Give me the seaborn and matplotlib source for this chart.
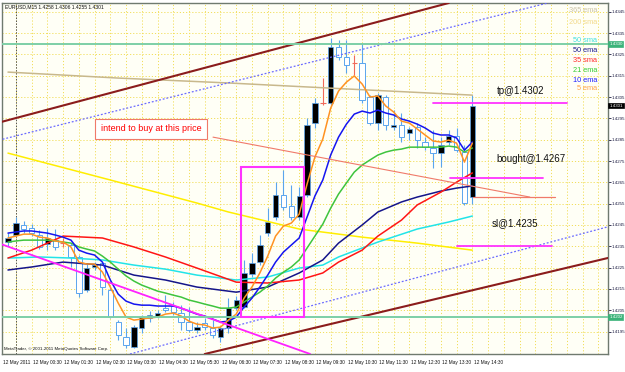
import matplotlib
matplotlib.use("Agg")
import matplotlib.pyplot as plt
from matplotlib.patches import Rectangle
import numpy as np
import pandas as pd
import seaborn as sns

sns.set_style("white")
plt.rcParams['font.family'] = ['Liberation Sans', 'DejaVu Sans']

# ---------------- data ----------------
header_text = "EURUSD,M15 1.4258 1.4306 1.4255 1.4301"
copyright_text = "MetaTrader, \u00a9 2001-2011 MetaQuotes Software Corp."

bar_open = [1.42370, 1.42403, 1.42450, 1.42436, 1.42403, 1.42361, 1.42379, 1.42365, 1.42356, 1.42300,
            1.42145, 1.42253, 1.42271, 1.42145, 1.41995, 1.41924, 1.41877, 1.41967, 1.42014, 1.42023,
            1.42060, 1.42070, 1.42037, 1.41995, 1.41957, 1.41990, 1.41967, 1.41924, 1.41967, 1.42060,
            1.42065, 1.42220, 1.42276, 1.42412, 1.42487, 1.42590, 1.42539, 1.42487, 1.42590, 1.42928,
            1.43022, 1.43022, 1.43285, 1.43238, 1.43209, 1.43209, 1.43050, 1.42928, 1.43050, 1.42909,
            1.42919, 1.42881, 1.42909, 1.42839, 1.42811, 1.42787, 1.42839, 1.42867, 1.42792, 1.42580]
bar_high = [1.42412, 1.42487, 1.42468, 1.42454, 1.42426, 1.42436, 1.42431, 1.42389, 1.42365, 1.42309,
            1.42271, 1.42276, 1.42276, 1.42159, 1.42004, 1.41967, 1.41981, 1.42028, 1.42046, 1.42051,
            1.42121, 1.42089, 1.42074, 1.42065, 1.41995, 1.42014, 1.42004, 1.41976, 1.42107, 1.42117,
            1.42286, 1.42318, 1.42403, 1.42529, 1.42651, 1.42708, 1.42637, 1.42628, 1.42952, 1.43045,
            1.43139, 1.43327, 1.43317, 1.43317, 1.43247, 1.43303, 1.43059, 1.43069, 1.43059, 1.42989,
            1.42975, 1.42909, 1.42928, 1.42862, 1.42895, 1.42862, 1.42895, 1.42905, 1.42825, 1.43060]
bar_low = [1.42351, 1.42398, 1.42412, 1.42398, 1.42337, 1.42332, 1.42332, 1.42346, 1.42253, 1.42112,
           1.42135, 1.42239, 1.42121, 1.42014, 1.41910, 1.41872, 1.41872, 1.41943, 1.41995, 1.42014,
           1.42042, 1.42028, 1.41957, 1.41948, 1.41943, 1.41957, 1.41920, 1.41901, 1.41943, 1.42051,
           1.42060, 1.42206, 1.42262, 1.42398, 1.42473, 1.42520, 1.42473, 1.42473, 1.42581, 1.42905,
           1.43012, 1.43012, 1.43224, 1.43163, 1.43153, 1.43022, 1.42919, 1.42895, 1.42895, 1.42895,
           1.42839, 1.42848, 1.42811, 1.42801, 1.42717, 1.42722, 1.42825, 1.42792, 1.42543, 1.42550]
bar_close = [1.42389, 1.42459, 1.42431, 1.42412, 1.42346, 1.42389, 1.42346, 1.42365, 1.42300, 1.42131,
             1.42248, 1.42262, 1.42159, 1.42018, 1.41934, 1.41887, 1.41971, 1.42018, 1.42028, 1.42037,
             1.42051, 1.42042, 1.41995, 1.41957, 1.41971, 1.41971, 1.41934, 1.41967, 1.42060, 1.42098,
             1.42225, 1.42271, 1.42356, 1.42464, 1.42590, 1.42534, 1.42487, 1.42586, 1.42919, 1.43022,
             1.43022, 1.43285, 1.43238, 1.43200, 1.43209, 1.43036, 1.42928, 1.43059, 1.42919, 1.42919,
             1.42862, 1.42900, 1.42848, 1.42815, 1.42787, 1.42825, 1.42867, 1.42801, 1.42553, 1.43010]

ema5 = [1.42389, 1.42398, 1.42407, 1.42407, 1.42393, 1.42389, 1.42375, 1.42370, 1.42347, 1.42276,
        1.42267, 1.42267, 1.42229, 1.42159, 1.42084, 1.42018, 1.42004, 1.42009, 1.42014, 1.42018,
        1.42032, 1.42037, 1.42023, 1.41999, 1.41985, 1.41981, 1.41967, 1.41971, 1.42004, 1.42032,
        1.42107, 1.42159, 1.42225, 1.42304, 1.42398, 1.42445, 1.42459, 1.42501, 1.42642, 1.42769,
        1.42853, 1.42998, 1.43078, 1.43120, 1.43149, 1.43111, 1.43050, 1.43055, 1.43008, 1.42980,
        1.42937, 1.42928, 1.42900, 1.42872, 1.42844, 1.42839, 1.42848, 1.42834, 1.42745, 1.42834]
ema10 = [1.42412, 1.42417, 1.42422, 1.42422, 1.42417, 1.42412, 1.42403, 1.42393, 1.42379, 1.42332,
         1.42318, 1.42309, 1.42276, 1.42192, 1.42126, 1.42093, 1.42079, 1.42074, 1.42074, 1.42070,
         1.42070, 1.42070, 1.42060, 1.42046, 1.42032, 1.42023, 1.42009, 1.41995, 1.41999, 1.42018,
         1.42065, 1.42107, 1.42159, 1.42215, 1.42276, 1.42323, 1.42356, 1.42389, 1.42487, 1.42586,
         1.42661, 1.42778, 1.42862, 1.42923, 1.42970, 1.42984, 1.42975, 1.42989, 1.42975, 1.42966,
         1.42947, 1.42937, 1.42923, 1.42905, 1.42881, 1.42872, 1.42872, 1.42858, 1.42801, 1.42839]
ema21 = [1.42370, 1.42375, 1.42379, 1.42379, 1.42379, 1.42379, 1.42375, 1.42370, 1.42365, 1.42347,
         1.42337, 1.42328, 1.42304, 1.42276, 1.42243, 1.42211, 1.42187, 1.42168, 1.42154, 1.42140,
         1.42131, 1.42121, 1.42112, 1.42098, 1.42089, 1.42079, 1.42070, 1.42060, 1.42060, 1.42065,
         1.42089, 1.42112, 1.42135, 1.42164, 1.42201, 1.42229, 1.42253, 1.42286, 1.42342, 1.42398,
         1.42454, 1.42529, 1.42595, 1.42647, 1.42698, 1.42731, 1.42755, 1.42778, 1.42792, 1.42801,
         1.42806, 1.42815, 1.42815, 1.42815, 1.42815, 1.42815, 1.42820, 1.42815, 1.42792, 1.42811]

sma35_bars = [0, 3, 7, 12, 16, 20, 24, 29, 33, 37, 40, 42, 45, 47, 50, 52, 55, 57, 59]
sma35 = [1.42295, 1.42332, 1.42398, 1.42389, 1.42347, 1.42300, 1.42248, 1.42182, 1.42178, 1.42192,
         1.42225, 1.42276, 1.42332, 1.42398, 1.42473, 1.42544, 1.42604, 1.42651, 1.42694]
ema50_bars = [0, 3, 7, 12, 16, 20, 24, 29, 33, 37, 40, 42, 45, 47, 50, 52, 55, 57, 59]
ema50 = [1.42239, 1.42253, 1.42276, 1.42262, 1.42215, 1.42192, 1.42159, 1.42135, 1.42159, 1.42225,
         1.42286, 1.42365, 1.42450, 1.42511, 1.42558, 1.42581, 1.42609, 1.42623, 1.42633]
sma50_bars = [0, 4, 8, 12, 16, 20, 24, 29, 33, 37, 40, 42, 47, 52, 56, 59]
sma50 = [1.42295, 1.42300, 1.42295, 1.42286, 1.42262, 1.42243, 1.42215, 1.42192, 1.42206, 1.42248,
         1.42262, 1.42300, 1.42370, 1.42431, 1.42464, 1.42492]
sma200_bars = [0, 13, 24, 28, 37, 45, 52, 59]
sma200 = [1.42787, 1.42661, 1.42553, 1.42511, 1.42431, 1.42393, 1.42365, 1.42332]
ema365_bars = [0, 14, 28, 43, 59]
ema365 = [1.43167, 1.43139, 1.43116, 1.43088, 1.43059]

# drawn objects (trend lines, levels)
channel_up_bars, channel_up_prices = [-2.0, 56.0], [1.42922, 1.43491]
channel_dn_bars, channel_dn_prices = [25.0, 77.0], [1.41845, 1.42302]
dotted_up_bars, dotted_up_prices = [-2.0, 70.1], [1.42840, 1.43505]
dotted_dn_bars, dotted_dn_prices = [15.5, 77.0], [1.41845, 1.42449]
magenta_trend_bars, magenta_trend_prices = [-2.0, 38.4], [1.42375, 1.41845]
intend_line_bars, intend_line_prices = [26.05, 66.3], [1.42862, 1.42581]
level_lines = [1.4330, 1.4202]
entry_level_bars, entry_level_price = [59.1, 69.5], 1.4258
tp_bars, tp_price = [54.0, 71.0], 1.4302
bought_bars, bought_price = [56.2, 68.0], 1.4267
sl_bars, sl_price = [57.1, 69.1], 1.4235
box_bars, box_prices = [29.6, 37.6], [1.4202, 1.4272]

price_ticks = [1.4195, 1.4205, 1.4215, 1.4225, 1.4235, 1.4245, 1.4255, 1.4265, 1.4275,
               1.4285, 1.4295, 1.4305, 1.4315, 1.4325, 1.4335, 1.4345]
time_labels = ["12 May 2011", "12 May 00:30", "12 May 01:30", "12 May 02:30", "12 May 03:30",
               "12 May 04:30", "12 May 05:30", "12 May 06:30", "12 May 07:30", "12 May 08:30",
               "12 May 09:30", "12 May 10:30", "12 May 11:30", "12 May 12:30", "12 May 13:30",
               "12 May 14:30"]
time_label_bars = [-0.75, 3, 7, 11, 15, 19, 23, 27, 31, 35, 39, 43, 47, 51, 55, 59]

legend_names = ["365 ema", "200 sma", "50 sma", "50 ema", "35 sma", "21 ema", "10 ema", "5 ema"]
legend_colors = ["#cbc3a6", "#f2d98a", "#3fe0e0", "#1a1a8c", "#ff2a2a", "#33cc33", "#2020ff", "#ffa347"]

# ---------------- figure ----------------
W, H = 625, 372
fig = plt.figure(figsize=(W / 100, H / 100), dpi=100)
fig.patch.set_facecolor("white")
ax = fig.add_axes([2 / W, 18 / H, 606 / W, 351 / H])
ax.set_facecolor("#fffff6")
ax.set_xlim(-0.762, 76.24)
ax.set_ylim(1.41845, 1.43491)

def fx(px):
    return px / W
def fy(py):
    return 1 - py / H

# grid
grid_col = "#f2de5c"
for b in np.arange(1, 77, 2):
    ax.axvline(b, color=grid_col, lw=0.7, ls=(0, (1.2, 2.0)), zorder=0)
for lv in price_ticks:
    ax.axhline(lv, color=grid_col, lw=0.7, ls=(0, (1.2, 2.0)), zorder=0)
ax.axvline(1, color="#555555", lw=0.7, ls=(0, (1.5, 1.5)), zorder=0.5)

# candles
o = np.array(bar_open); h = np.array(bar_high); l = np.array(bar_low); c = np.array(bar_close)
bars = np.arange(len(o))
up = c > o
dn = c < o
dj = c == o
edge = "#5aa5ee"
ax.vlines(bars[~dj], l[~dj], h[~dj], color=edge, lw=0.8, zorder=2)
ax.bar(bars[up], (c - o)[up], bottom=o[up], width=0.68, color="black", edgecolor=edge, lw=0.5, zorder=3)
ax.bar(bars[dn], (o - c)[dn], bottom=c[dn], width=0.68, color="white", edgecolor=edge, lw=0.7, zorder=3)
ax.vlines(bars[dj], l[dj], h[dj], color="#f06a5a", lw=0.8, zorder=3)
ax.hlines(c[dj], bars[dj] - 0.35, bars[dj] + 0.35, color="#f06a5a", lw=0.8, zorder=3)

# moving averages
ma_specs = [
    (ema365_bars, ema365, "#c8b88c"),
    (sma200_bars, sma200, "#ffee00"),
    (sma50_bars, sma50, "#22e4e8"),
    (ema50_bars, ema50, "#15158a"),
    (sma35_bars, sma35, "#ff1515"),
    (list(bars), ema21, "#3ec43e"),
    (list(bars), ema10, "#1515f0"),
    (list(bars), ema5, "#ff9222"),
]
for xs, ys, col in ma_specs:
    sns.lineplot(x=xs, y=ys, ax=ax, color=col, lw=1.1, legend=False,
                 estimator=None, sort=False, zorder=4)

# objects
ax.plot(channel_up_bars, channel_up_prices, color="#8b1c1c", lw=1.5, zorder=5)
ax.plot(channel_dn_bars, channel_dn_prices, color="#8b1c1c", lw=1.5, zorder=5)
ax.plot(dotted_up_bars, dotted_up_prices, color="#6b6bff", lw=0.9, ls=(0, (1.5, 1.5)), zorder=5)
ax.plot(dotted_dn_bars, dotted_dn_prices, color="#6b6bff", lw=0.9, ls=(0, (1.5, 1.5)), zorder=5)
ax.plot(magenta_trend_bars, magenta_trend_prices, color="#ff22ff", lw=1.3, zorder=5)
ax.plot(intend_line_bars, intend_line_prices, color="#f07a6a", lw=0.8, zorder=5)
for lv in level_lines:
    ax.axhline(lv, color="#7dcfa6", lw=1.4, zorder=5)
ax.plot(entry_level_bars, [entry_level_price] * 2, color="#f07a6a", lw=0.9, zorder=5)
for bb, pp in [(tp_bars, tp_price), (bought_bars, bought_price), (sl_bars, sl_price)]:
    ax.plot(bb, [pp, pp], color="#ff33ff", lw=1.3, zorder=5)
ax.add_patch(Rectangle((box_bars[0], box_prices[0]), box_bars[1] - box_bars[0],
                       box_prices[1] - box_prices[0], fill=False, edgecolor="#ff33ff",
                       lw=1.5, zorder=5))

# annotation texts
ax.text(62.1, 1.43078, "tp@1.4302", fontsize=7, color="#111111", va="center", ha="left", zorder=6)
ax.text(62.1, 1.42759, "bought@1.4267", fontsize=7, color="#111111", va="center", ha="left", zorder=6)
ax.text(61.5, 1.42459, "sl@1.4235", fontsize=7, color="#111111", va="center", ha="left", zorder=6)
ax.text(11.8, 1.42902, "intend to buy at this price", fontsize=6.5, color="#ff0000",
        va="center", ha="left", zorder=6,
        bbox=dict(boxstyle="square,pad=0.6", fc="white", ec="#f07a6a", lw=0.8))

# spines
for s in ax.spines.values():
    s.set_color("#6f7a6f")
    s.set_linewidth(1.0)

# price axis on the right
ax.yaxis.tick_right()
ax.set_yticks(price_ticks)
ax.set_yticklabels([f"{v:.4f}" for v in price_ticks], fontsize=3.2, color="#1a1a40")
ax.tick_params(axis="y", length=2, width=0.6, pad=0.8, colors="#1a1a40", labelcolor="#1a1a40")
ax.set_xticks(time_label_bars[1:])
ax.set_xticklabels([])
ax.tick_params(axis="x", length=2.5, width=0.6, colors="#333333")
ax.set_xlabel("")
ax.set_ylabel("")

ytr = ax.get_yaxis_transform()
for lv, bg in [(1.4330, "#3cb37a"), (1.4202, "#3cb37a")]:
    ax.text(1.002, lv, f"{lv:.4f}", transform=ytr, fontsize=3.2, color="white", va="center",
            ha="left", zorder=7, clip_on=False,
            bbox=dict(boxstyle="square,pad=0.2", fc=bg, ec=bg, lw=0.5))
ax.text(1.002, 1.4301, "1.4301", transform=ytr, fontsize=3.2, color="white", va="center",
        ha="left", zorder=7, clip_on=False,
        bbox=dict(boxstyle="square,pad=0.2", fc="black", ec="black", lw=0.5))

# time labels
xtr = ax.get_xaxis_transform()
for b, t in zip(time_label_bars, time_labels):
    ax.text(b + 0.15, -0.023, t, transform=xtr, fontsize=3.4, color="#111111",
            va="center", ha="left", clip_on=False)

# header, copyright, legend
fig.text(fx(5), fy(7), header_text, fontsize=3.6, color="#111111", va="center", ha="left")
fig.text(fx(4), fy(349), copyright_text, fontsize=3.2, color="#111111", va="center", ha="left")
legend_y = [11, 23, 40, 51, 61, 70, 80, 89]
for name, col, yy in zip(legend_names, legend_colors, legend_y):
    fig.text(fx(597), fy(yy), name, fontsize=5.3, color=col, va="center", ha="right")

fig.savefig("out.png", dpi=100, facecolor="white")
